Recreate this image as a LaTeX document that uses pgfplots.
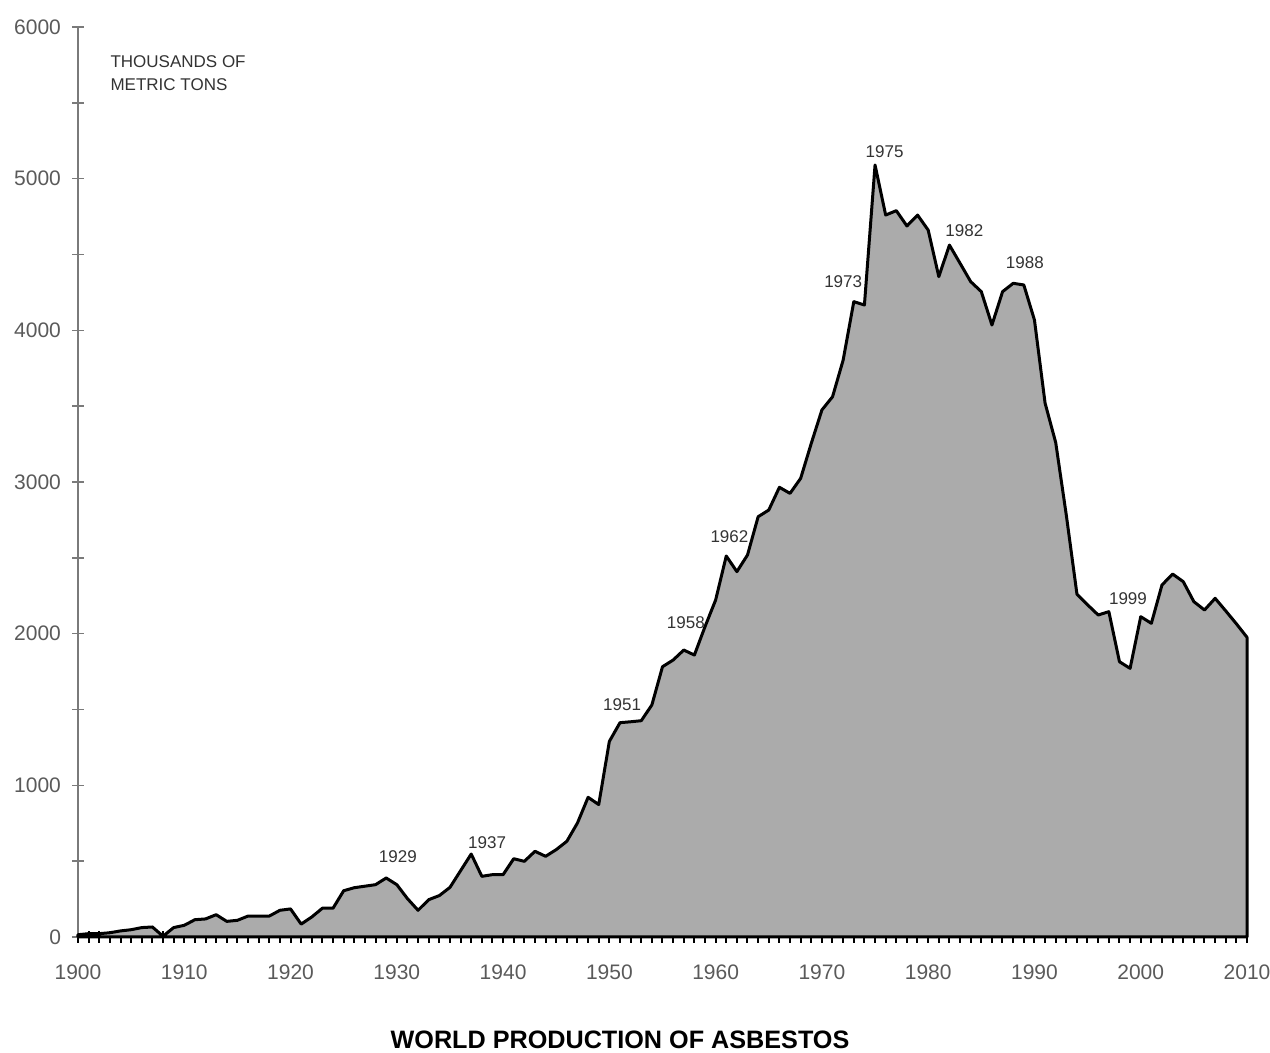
\documentclass[border=0pt]{standalone}
\usepackage{fontspec}
\setmainfont{Liberation Sans}
\usepackage{pgfplots}
\usepackage{pgfplotstable}
\pgfplotsset{compat=1.18}

\definecolor{areagray}{HTML}{ABABAB}
\definecolor{labelgray}{HTML}{5A5A5A}
\definecolor{axisgray}{HTML}{7A7A7A}
\definecolor{notegray}{HTML}{333333}

% world production, thousands of metric tons
\pgfplotstableread{
year value
1900 15
1901 22
1902 22
1903 28
1904 40
1905 48
1906 62
1907 66
1908 5
1909 62
1910 77
1911 114
1912 119
1913 147
1914 103
1915 110
1916 138
1917 138
1918 138
1919 176
1920 185
1921 85
1922 132
1923 190
1924 190
1925 305
1926 325
1927 335
1928 345
1929 389
1930 345
1931 253
1932 176
1933 246
1934 273
1935 327
1936 437
1937 547
1938 400
1939 411
1940 411
1941 516
1942 499
1943 565
1944 532
1945 576
1946 631
1947 752
1948 921
1949 873
1950 1290
1951 1413
1952 1419
1953 1426
1954 1530
1955 1782
1956 1826
1957 1892
1958 1859
1959 2046
1960 2222
1961 2512
1962 2409
1963 2519
1964 2771
1965 2815
1966 2965
1967 2925
1968 3024
1969 3255
1970 3475
1971 3562
1972 3804
1973 4189
1974 4167
1975 5090
1976 4760
1977 4789
1978 4688
1979 4760
1980 4661
1981 4354
1982 4562
1983 4442
1984 4321
1985 4255
1986 4035
1987 4255
1988 4310
1989 4299
1990 4068
1991 3520
1992 3260
1993 2780
1994 2260
1995 2190
1996 2123
1997 2145
1998 1815
1999 1771
2000 2112
2001 2068
2002 2321
2003 2393
2004 2343
2005 2211
2006 2156
2007 2233
2008 2150
2009 2065
2010 1976
}\asbestos

\begin{document}
\begin{tikzpicture}
\begin{axis}[
    scale only axis,
    width=584.5pt, height=455pt,
    xmin=1900, xmax=2010,
    ymin=0, ymax=6000,
    axis lines=left,
    x axis line style={-, black, line width=1.5pt},
    y axis line style={-, axisgray, line width=0.8pt},
    xtick={1900,1910,...,2010},
    minor xtick={1901,1902,...,2009},
    ytick={0,1000,...,6000},
    minor ytick={500,1500,...,5500},
    tick align=center,
    major tick length=6pt,
    minor tick length=6pt,
    xtick style={black, line width=1pt},
    minor x tick style={black, line width=1pt},
    ytick style={axisgray, line width=0.8pt},
    minor y tick style={axisgray, line width=0.8pt},
    /pgf/number format/1000 sep={},
    /pgf/number format/assume math mode=true,
    ticklabel style={font=\fontsize{10.5}{12}\selectfont, text=labelgray},
    xticklabel style={yshift=-7.5pt},
    yticklabel style={xshift=-2pt},
    clip=false,
]
\addplot[fill=areagray, draw=black, line width=1.5pt, line join=round]
    table[x=year, y=value] {\asbestos} \closedcycle;

\node[anchor=north west, align=left, font=\fontsize{8.5}{11.5}\selectfont, text=notegray]
    at (axis cs:1902.4,5860) {THOUSANDS OF\\METRIC TONS};

\begin{scope}[every node/.style={font=\fontsize{8.5}{10}\selectfont, text=notegray}]
\node at (axis cs:1930.1,527) {1929};
\node at (axis cs:1938.5,620) {1937};
\node at (axis cs:1951.2,1530) {1951};
\node at (axis cs:1957.2,2070) {1958};
\node at (axis cs:1961.3,2637) {1962};
\node at (axis cs:1972.0,4319) {1973};
\node at (axis cs:1975.9,5176) {1975};
\node at (axis cs:1983.4,4655) {1982};
\node at (axis cs:1989.1,4444) {1988};
\node at (axis cs:1998.8,2229) {1999};
\end{scope}

\node[font=\bfseries\fontsize{12.6}{14}\selectfont, yshift=-51.5pt]
    at (axis cs:1951,0) {WORLD PRODUCTION OF ASBESTOS};
\end{axis}
\pgfresetboundingbox
\useasboundingbox ([xshift=-39pt,yshift=-58pt]current axis.south west)
    rectangle ([xshift=11.5pt,yshift=13.5pt]current axis.north east);
\end{tikzpicture}
\end{document}
